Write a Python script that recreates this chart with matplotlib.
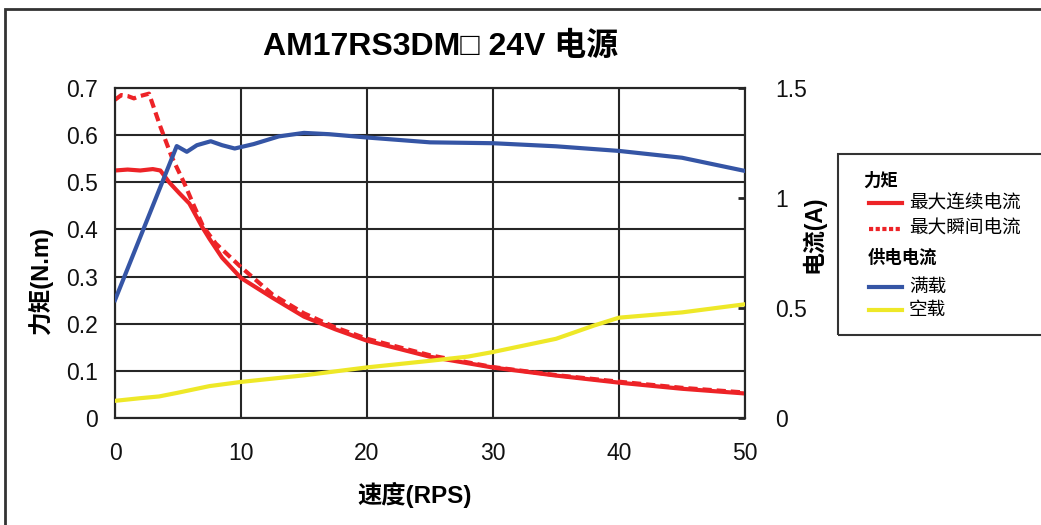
import matplotlib

matplotlib.use("Agg")
import matplotlib.pyplot as plt
from matplotlib.lines import Line2D
from matplotlib.patches import Rectangle

plt.rcParams["font.family"] = ["Liberation Sans", "Noto Sans CJK SC", "DejaVu Sans"]

W, H = 1041, 525

# torque curves (N.m) vs speed (RPS)
cont_speed = [0, 1, 2, 3, 3.6, 4.3, 5.1, 5.9, 6.9, 7.5, 8.5, 10, 12.5, 15, 17.5, 20, 25, 30, 35, 40, 45, 50]
cont_torque = [0.525, 0.527, 0.525, 0.528, 0.525, 0.50, 0.477, 0.455, 0.406, 0.38, 0.34, 0.297,
               0.255, 0.215, 0.188, 0.164, 0.13, 0.107, 0.09, 0.075, 0.062, 0.052]
peak_speed = [0, 0.5, 1, 1.5, 2, 2.7, 3.6, 4.5, 5.5, 6.3, 7, 8, 10, 12.5, 15, 17.5, 20, 25, 30, 35, 40, 45, 50]
peak_torque = [0.675, 0.685, 0.683, 0.678, 0.683, 0.688, 0.618, 0.554, 0.498, 0.448, 0.406, 0.37, 0.32,
               0.262, 0.222, 0.192, 0.168, 0.133, 0.108, 0.091, 0.077, 0.064, 0.054]

# supply current (A) vs speed (RPS)
full_speed = [0, 4.9, 5.7, 6.5, 7.6, 8.5, 9.5, 11, 13, 15, 17, 20, 25, 30, 35, 40, 45, 50]
full_current = [0.536, 1.236, 1.21, 1.24, 1.258, 1.24, 1.225, 1.245, 1.28, 1.296, 1.29, 1.275,
                1.253, 1.249, 1.235, 1.214, 1.183, 1.123]
idle_speed = [0, 2, 3.5, 5, 7.5, 10, 15, 20, 25, 28, 30, 35, 38, 40, 45, 50]
idle_current = [0.078, 0.09, 0.098, 0.115, 0.145, 0.164, 0.194, 0.23, 0.26, 0.279, 0.30, 0.36,
                0.42, 0.456, 0.48, 0.517]

x_ticks = [0, 10, 20, 30, 40, 50]
torque_ticks = [0, 0.1, 0.2, 0.3, 0.4, 0.5, 0.6, 0.7]
torque_labels = ["0", "0.1", "0.2", "0.3", "0.4", "0.5", "0.6", "0.7"]
current_ticks = [0, 0.5, 1, 1.5]
current_labels = ["0", "0.5", "1", "1.5"]

RED = "#ED2327"
BLUE = "#3555A5"
YELLOW = "#EEE828"
GRID = "#262626"


def fx(px):
    return px / W


def fy(py):
    return 1 - py / H


fig = plt.figure(figsize=(W / 100, H / 100), dpi=100)
fig.patch.set_facecolor("white")
ax = fig.add_axes([fx(115), fy(418), fx(745) - fx(115), fy(88) - fy(418)])
ax2 = ax.twinx()

ax.plot(cont_speed, cont_torque, color=RED, lw=3, solid_joinstyle="round", zorder=3)
ax.plot(peak_speed, peak_torque, color=RED, lw=3, dashes=(2.2, 1.2), zorder=3)
ax2.plot(full_speed, full_current, color=BLUE, lw=3, solid_joinstyle="round", zorder=3)
ax2.plot(idle_speed, idle_current, color=YELLOW, lw=3, solid_joinstyle="round", zorder=3)

ax.set_xlim(0, 50)
ax.set_ylim(0, 0.7)
ax2.set_ylim(0, 1.5)
ax.set_xticks(x_ticks, [str(v) for v in x_ticks])
ax.set_yticks(torque_ticks, torque_labels)
ax2.set_yticks(current_ticks, current_labels)
ax.grid(True, color=GRID, lw=1.5)
ax.set_axisbelow(True)
ax.tick_params(axis="both", length=0, labelsize=16.5, colors="#111111")
ax.tick_params(axis="x", pad=17)
ax.tick_params(axis="y", pad=12)
ax2.tick_params(axis="y", direction="in", length=5, width=2, color=GRID, labelsize=16.5, pad=22, labelcolor="#111111")
for a in (ax, ax2):
    for s in a.spines.values():
        s.set_color(GRID)
        s.set_linewidth(1.5)

fig.text(fx(441), fy(47), "AM17RS3DM□ 24V 电源", ha="center", va="center", fontsize=23, fontweight="bold")
fig.text(fx(415), fy(495), "速度(RPS)", ha="center", va="center", fontsize=17.5, fontweight="bold")
fig.text(fx(40), fy(280), "力矩(N.m)", ha="center", va="center", rotation=90, fontsize=17, fontweight="bold")
fig.text(fx(813), fy(234), "电流(A)", ha="center", va="center", rotation=90, fontsize=16.5, fontweight="bold")

# figure frame (right and bottom edges fall outside the crop)
fig.add_artist(Rectangle((fx(5), fy(1000)), 2, fy(9) - fy(1000), transform=fig.transFigure,
                         fill=False, edgecolor="#333333", lw=2))

# legend box
fig.add_artist(Rectangle((fx(838), fy(335)), 1, fy(154) - fy(335), transform=fig.transFigure,
                         fill=False, edgecolor="#333333", lw=1.5))
fig.text(fx(863), fy(180), "力矩", ha="left", va="center", fontsize=12.5, fontweight="bold")
fig.text(fx(868), fy(257), "供电电流", ha="left", va="center", fontsize=12.5, fontweight="bold")
legend_items = [
    (203, RED, None, "最大连续电流"),
    (229, RED, (1.0, 0.6), "最大瞬间电流"),
    (287, BLUE, None, "满载"),
    (310, YELLOW, None, "空载"),
]
for py, color, dash, label in legend_items:
    line = Line2D([fx(869), fx(902)], [fy(py), fy(py)], transform=fig.transFigure, color=color, lw=3)
    if dash:
        line.set_dashes(dash)
    fig.add_artist(line)
    fig.text(fx(909), fy(py), label, ha="left", va="center", fontsize=13.4)

fig.savefig("out.png", dpi=100, facecolor="white")
